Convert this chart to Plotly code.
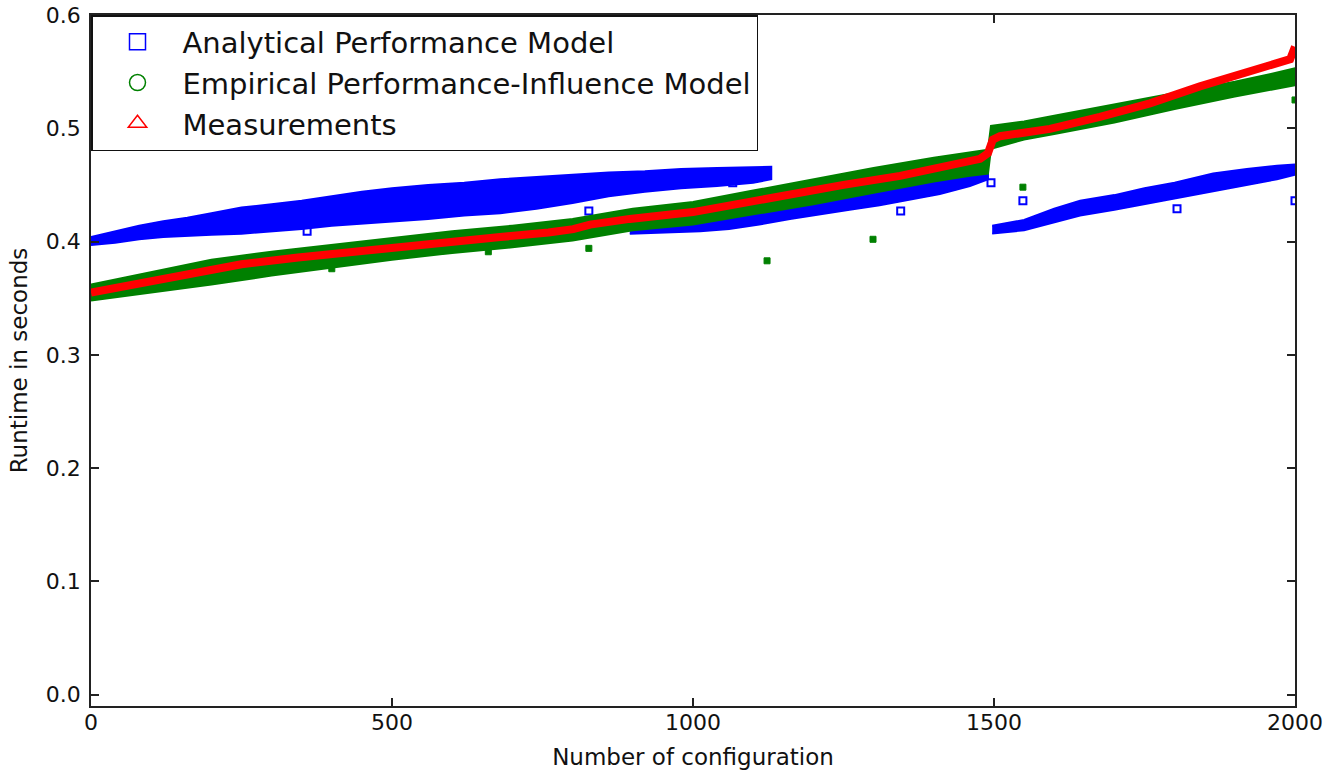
import plotly.graph_objects as go

# ---------------- data ----------------
# Measurements (sorted runtime per configuration) - centre of red trace
meas_x = [0, 50, 100, 165, 250, 344, 500, 600, 680, 760, 801, 829, 895, 1000, 1100, 1161,
          1250, 1344, 1427, 1477, 1490, 1494, 1498, 1510, 1593, 1676, 1759, 1842, 1925, 1992, 2000]
meas_y = [0.355, 0.360, 0.365, 0.372, 0.380, 0.386, 0.395, 0.400, 0.404, 0.408, 0.411, 0.415,
          0.420, 0.426, 0.436, 0.442, 0.450, 0.458, 0.467, 0.473, 0.478, 0.485, 0.490, 0.493,
          0.4995, 0.510, 0.522, 0.537, 0.550, 0.561, 0.572]

# Empirical performance-influence model: extent of the dense green band
emp_x = [0, 100, 200, 300, 400, 500, 600, 700, 800, 900, 1000, 1100, 1200, 1300, 1400, 1460,
         1490, 1495, 1550, 1600, 1700, 1800, 1900, 1960, 2000]
emp_hi = [0.362, 0.373, 0.384, 0.391, 0.397, 0.403, 0.409, 0.414, 0.420, 0.429, 0.435, 0.445,
          0.455, 0.465, 0.474, 0.479, 0.481, 0.502, 0.506, 0.511, 0.521, 0.531, 0.541, 0.548, 0.553]
emp_lo = [0.348, 0.355, 0.362, 0.370, 0.377, 0.384, 0.390, 0.395, 0.401, 0.410, 0.415, 0.424,
          0.433, 0.443, 0.453, 0.458, 0.460, 0.482, 0.490, 0.495, 0.505, 0.517, 0.528, 0.534, 0.538]
emp_out_x = [164, 400, 660, 827, 1123, 1299, 1548, 2000]
emp_out_y = [0.365, 0.376, 0.391, 0.394, 0.383, 0.402, 0.448, 0.525]

# Analytical performance model: three dense blue bands
ana_a_x = [0, 40, 80, 120, 160, 200, 250, 300, 350, 400, 450, 500, 560, 620, 680, 740, 800,
           860, 920, 980, 1040, 1100, 1130]
ana_a_hi = [0.404, 0.409, 0.414, 0.418, 0.421, 0.425, 0.430, 0.433, 0.436, 0.440, 0.444, 0.447,
            0.450, 0.452, 0.455, 0.457, 0.459, 0.461, 0.462, 0.464, 0.465, 0.466, 0.466]
ana_a_lo = [0.397, 0.399, 0.402, 0.404, 0.405, 0.406, 0.407, 0.409, 0.411, 0.414, 0.416, 0.418,
            0.420, 0.423, 0.425, 0.429, 0.434, 0.440, 0.444, 0.447, 0.449, 0.452, 0.455]
ana_b_x = [895, 950, 1012, 1060, 1110, 1161, 1210, 1260, 1310, 1360, 1410, 1460, 1490]
ana_b_hi = [0.417, 0.419, 0.422, 0.427, 0.433, 0.440, 0.444, 0.448, 0.452, 0.456, 0.460, 0.466, 0.469]
ana_b_lo = [0.407, 0.408, 0.409, 0.411, 0.415, 0.420, 0.424, 0.428, 0.432, 0.437, 0.442, 0.449, 0.455]
ana_c_x = [1497, 1550, 1600, 1643, 1700, 1750, 1800, 1864, 1920, 1970, 2000]
ana_c_hi = [0.414, 0.419, 0.429, 0.436, 0.441, 0.447, 0.452, 0.460, 0.464, 0.467, 0.468]
ana_c_lo = [0.407, 0.410, 0.417, 0.423, 0.428, 0.433, 0.438, 0.445, 0.450, 0.455, 0.459]
ana_out_x = [359, 827, 1066, 1332, 1345, 1495, 1548, 1804, 2000]
ana_out_y = [0.409, 0.427, 0.452, 0.438, 0.427, 0.452, 0.436, 0.429, 0.436]

x_ticks = [0, 500, 1000, 1500, 2000]
y_ticks = [0.0, 0.1, 0.2, 0.3, 0.4, 0.5, 0.6]

names = ["Analytical Performance Model", "Empirical Performance-Influence Model", "Measurements"]
BLUE, GREEN, RED = "#0000ff", "#008000", "#ff0000"
FONT = "DejaVu Sans"

fig = go.Figure()


def band(xs, hi, lo, color):
    fig.add_trace(go.Scatter(
        x=list(xs) + list(xs)[::-1], y=list(hi) + list(lo)[::-1],
        mode="lines", fill="toself", fillcolor=color,
        line=dict(color=color, width=2), showlegend=False, hoverinfo="skip"))


# analytical model (blue, drawn first)
band(ana_a_x, ana_a_hi, ana_a_lo, BLUE)
band(ana_b_x, ana_b_hi, ana_b_lo, BLUE)
band(ana_c_x, ana_c_hi, ana_c_lo, BLUE)
fig.add_trace(go.Scatter(x=ana_out_x, y=ana_out_y, mode="markers", showlegend=False,
                         marker=dict(symbol="square-open", size=7, color=BLUE,
                                     line=dict(width=2, color=BLUE))))

# empirical model (green)
band(emp_x, emp_hi, emp_lo, GREEN)
fig.add_trace(go.Scatter(x=emp_out_x, y=emp_out_y, mode="markers", showlegend=False,
                         marker=dict(symbol="square", size=6, color=GREEN,
                                     line=dict(width=1, color=GREEN))))

# measurements (red, on top)
fig.add_trace(go.Scatter(x=meas_x, y=meas_y, mode="lines", showlegend=False,
                         line=dict(color=RED, width=8), hoverinfo="skip"))

# legend entries
for nm, sym, col in zip(names, ["square-open", "circle-open", "triangle-up-open"], [BLUE, GREEN, RED]):
    fig.add_trace(go.Scatter(x=[None], y=[None], mode="markers", name=nm,
                             marker=dict(symbol=sym, size=16, color=col, line=dict(width=1.5, color=col))))

axis_common = dict(showline=True, linecolor="#222", linewidth=1.5, mirror="ticks",
                   ticks="inside", ticklen=8, tickwidth=1.5, tickcolor="#222",
                   showgrid=False, zeroline=False, automargin=False,
                   tickfont=dict(family=FONT, size=22, color="#111"))

fig.update_layout(
    width=1326, height=771,
    margin=dict(l=91, r=31, t=15, b=65, autoexpand=False),
    paper_bgcolor="white", plot_bgcolor="white",
    font=dict(family=FONT, color="#111"),
    xaxis=dict(range=[0, 2000], tickvals=x_ticks, ticklabelstandoff=-4,
               title=dict(text="Number of configuration", font=dict(family=FONT, size=23), standoff=15),
               **axis_common),
    yaxis=dict(range=[-0.01, 0.6], tickvals=y_ticks, tickformat=".1f", ticklabelstandoff=4,
               title=dict(text="Runtime in seconds", font=dict(family=FONT, size=23), standoff=12),
               **axis_common),
    legend=dict(x=0, y=1, xanchor="left", yanchor="top", bgcolor="white",
                bordercolor="#111", borderwidth=1.5, itemwidth=80,
                font=dict(family=FONT, size=29, color="#111")),
)

fig.write_html("out.html", config={"displayModeBar": False},
               post_script="document.body.style.margin='0';document.body.style.overflow='hidden';")
